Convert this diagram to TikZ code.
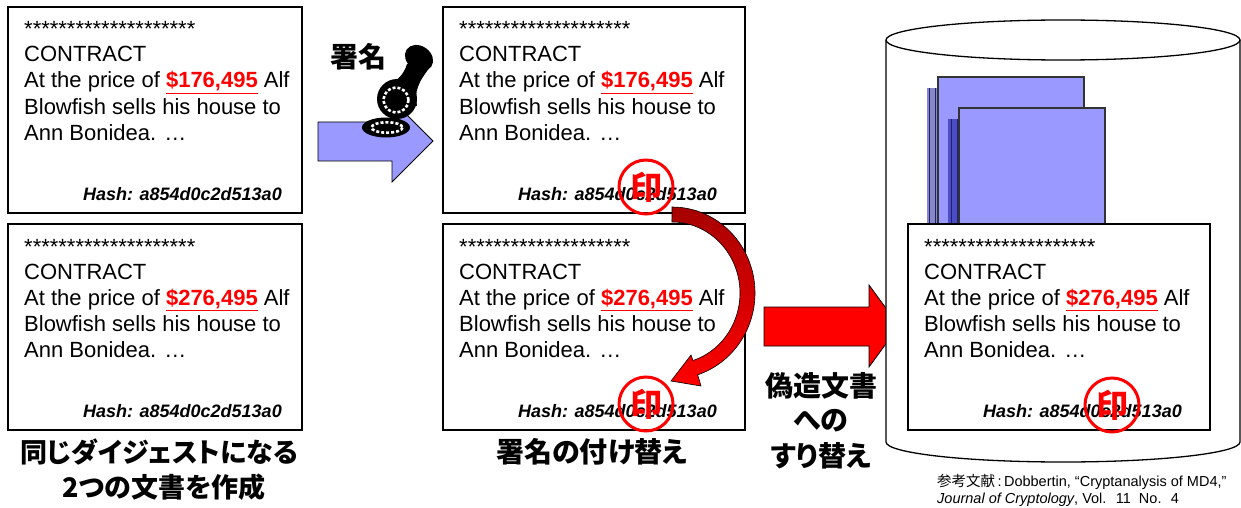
\documentclass[tikz,border=0pt]{standalone}
\usepackage{fontspec}
\setmainfont{Liberation Sans}
\newfontfamily\jfont[RawFeature=+palt]{Noto Sans CJK JP}
\usetikzlibrary{calc}

\definecolor{sheetblue}{HTML}{9999FF}
\definecolor{stripA}{HTML}{8787C8}
\definecolor{stripB}{HTML}{4C4CC4}
\definecolor{gridnavy}{HTML}{202070}

\tikzset{
  docbox/.style={draw=black, line width=2.8pt, fill=white, inner sep=0pt, outer sep=0pt, minimum height=206pt},
  doctext/.style={anchor=base west, inner sep=0pt, font=\fontsize{22}{26}\selectfont},
  hashtext/.style={anchor=base east, inner sep=0pt, font=\bfseries\itshape\fontsize{18}{20}\selectfont},
  hanko/.style={circle, draw=red, line width=3pt, minimum size=54pt, inner sep=0pt, text=red, font=\jfont\bfseries\fontsize{32}{32}\selectfont},
  jlabel/.style={inner sep=0pt, font=\jfont\bfseries\fontsize{28}{30}\selectfont},
  jlabelsmall/.style={inner sep=0pt, font=\jfont\bfseries\fontsize{27}{30}\selectfont},
  citetext/.style={anchor=base west, inner sep=0pt, font=\fontsize{14.5}{16}\selectfont},
  sheet/.style={fill=sheetblue, draw=black!80, line width=1.2pt},
  gridlines/.style={draw=gridnavy, line width=0.5pt},
  blockarrow/.style={draw=black, line width=0.8pt},
}

\newcommand\pricetag[1]{{\color{red}\bfseries\underline{\$#1}}}

% one contract sheet: name, left, top, width, price
\newcommand\contractdoc[5]{%
  \node[docbox, minimum width=#4pt, anchor=north west] (#1) at (#2,#3) {};
  \node[doctext] (#1-stars) at ($(#1.north west)+(16,30)$) {********************};
  \node[doctext] (#1-title) at ($(#1.north west)+(16,55)$) {CONTRACT};
  \node[doctext] (#1-l1) at ($(#1.north west)+(16,81)$) {At the price of \pricetag{#5} Alf};
  \node[doctext] (#1-l2) at ($(#1.north west)+(16,107)$) {Blowfish sells his house to};
  \node[doctext] (#1-l3) at ($(#1.north west)+(16,133)$) {Ann Bonidea. …};
  \node[hashtext] (#1-hash) at ($(#1.north west)+(274,193)$) {Hash: a854d0c2d513a0};
}

\begin{document}
\begin{tikzpicture}[x=1pt, y=-1pt]
  \useasboundingbox (0,0) rectangle (1241,508);

  % the two colliding contracts
  \contractdoc{docA}{8}{7}{294}{176,495}
  \contractdoc{docB}{8}{224}{294}{276,495}

  % signing step: arrow and rubber stamp
  \node[jlabel] (signlabel) at (358,57) {署名};
  \draw[blockarrow, fill=sheetblue] (318,122) -- (392,122) -- (392,100) -- (433,141)
        -- (392,182) -- (392,161) -- (318,161) -- cycle;
  \fill[black] (386,127.5) ellipse[x radius=24, y radius=10];
  \draw[white, line width=2.6pt, dash pattern=on 3pt off 2pt] (387,127.5) ellipse[x radius=15.5, y radius=5.2];
  \fill[black, rotate around={-35:(419,58)}] (419,58) ellipse[x radius=15, y radius=12];
  \fill[black] (407,64) .. controls (404,75) and (396,82) .. (380,92)
        -- (417,106) .. controls (414,92) and (418,82) .. (431,66) -- cycle;
  \fill[black] (397,99) circle[radius=20];
  \draw[white, line width=2.6pt, dash pattern=on 3pt off 2pt] (396,100) circle[radius=12.5];

  % signed sheets
  \contractdoc{docC}{443}{7}{302}{176,495}
  \contractdoc{docD}{443}{224}{302}{276,495}
  \node[hanko] (sealC) at (646,187) {印};
  \node[hanko] (sealD) at (646,404) {印};

  % the signature moves to the second sheet
  \path[draw=black, line width=0.6pt, top color=red!65!black, bottom color=red]
    (672,207) arc[start angle=-90, end angle=72, x radius=83, y radius=86]
    -- (701,386) -- (671,381) -- (691,355)
    -- (693,360.5) arc[start angle=72, end angle=-90, x radius=68, y radius=71] -- cycle;

  \node[jlabel] (swaplabel) at (592,452) {署名の付け替え};
  \node[jlabelsmall] (madeA) at (159,452) {同じダイジェストになる};
  \node[jlabelsmall] (madeB) at (164,487) {2つの文書を作成};

  % substitution arrow
  \draw[blockarrow, fill=red] (764,307) -- (869,307) -- (869,285) -- (899,326)
        -- (869,367) -- (869,346) -- (764,346) -- cycle;
  \node[jlabel] (forgeA) at (821,386) {偽造文書};
  \node[jlabel] (forgeB) at (821,421) {への};
  \node[jlabel] (forgeC) at (821,456) {すり替え};

  % document store
  \draw[line width=1.3pt, fill=white] (886,40) -- (886,442)
        arc[start angle=180, end angle=0, x radius=177, y radius=20] -- (1240,40);
  \draw[line width=1.3pt] (1063,40) ellipse[x radius=177, y radius=20];

  \fill[stripA] (927,88) rectangle (938,224);
  \draw[gridlines] (927,88) grid[xstep=5.5, ystep=3.8] (938,224);
  \draw[sheet] (938,77) rectangle (1084,224);
  \fill[stripB] (948,119) rectangle (959,224);
  \draw[gridlines] (948,119) grid[xstep=5.5, ystep=3.8] (959,224);
  \draw[sheet] (959,108) rectangle (1105,224);

  \contractdoc{docE}{908}{224}{302}{276,495}
  \node[hanko] (sealE) at (1112,405) {印};

  % reference
  \node[citetext] (cite1) at (937,486) {{\jfont 参考文献}\,:\,Dobbertin, “Cryptanalysis of MD4,”};
  \node[citetext] (cite2) at (937,503) {\textit{Journal of Cryptology}, Vol.~ 11~ No.~ 4};
\end{tikzpicture}
\end{document}
